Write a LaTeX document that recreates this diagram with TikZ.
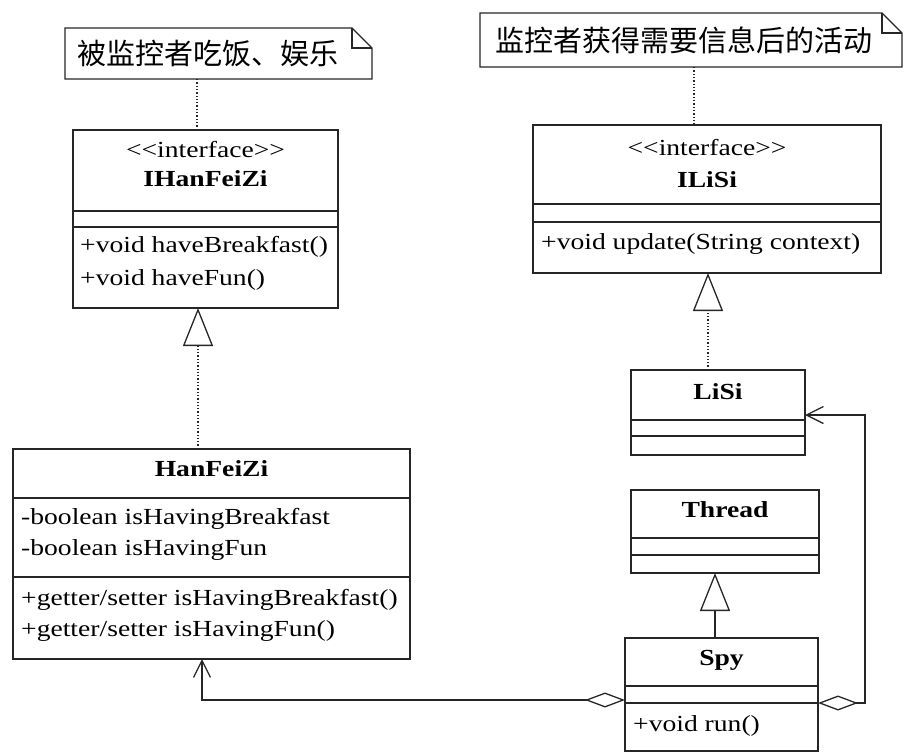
\documentclass[tikz,border=0pt]{standalone}
\usepackage{fontspec}
\setmainfont[FakeStretch=1.2]{Liberation Serif}
\newfontfamily\cjk{Noto Sans CJK SC}
\usetikzlibrary{arrows.meta}
\begin{document}
\begin{tikzpicture}[x=1pt,y=-1pt,
  line/.style={line width=1.3pt, draw=black!85},
  box/.style={line, draw, inner sep=0pt, outer sep=0pt},
  lbl/.style={font=\fontsize{23}{28}\selectfont, inner sep=0pt},
  ttl/.style={font=\fontsize{23}{28}\selectfont\bfseries, inner sep=0pt},
  cjklbl/.style={font=\fontsize{29}{32}\selectfont\cjk, inner sep=0pt},
  dotline/.style={line, dotted},
  realize/.style={line, dotted, -{Triangle[fill=white, length=38pt, width=30pt, line width=1.3pt]}},
  inherit/.style={line, -{Triangle[fill=white, length=38pt, width=30pt, line width=1.3pt]}},
  aggr/.style={line, {Diamond[fill=white, length=40pt, width=15pt, line width=1.3pt]}-{Straight Barb[length=17pt, width=17pt, line width=1.3pt]}}
]
\useasboundingbox (0,0) rectangle (904,753);

% ---- notes ----
\node[inner sep=0pt, outer sep=0pt, minimum width=307pt, minimum height=51pt] (n1) at (218.5,53.5) {};
\draw[line] (n1.north west) -- ([xshift=-20pt]n1.north east) -- ([yshift=-20pt]n1.north east) -- (n1.south east) -- (n1.south west) -- cycle;
\draw[line] ([xshift=-20pt]n1.north east) -- ([xshift=-20pt,yshift=-20pt]n1.north east) -- ([yshift=-20pt]n1.north east);
\node[cjklbl] (n1t) at (208,54) {被监控者吃饭、娱乐};

\node[inner sep=0pt, outer sep=0pt, minimum width=422pt, minimum height=54pt] (n2) at (691,40) {};
\draw[line] (n2.north west) -- ([xshift=-20pt]n2.north east) -- ([yshift=-20pt]n2.north east) -- (n2.south east) -- (n2.south west) -- cycle;
\draw[line] ([xshift=-20pt]n2.north east) -- ([xshift=-20pt,yshift=-20pt]n2.north east) -- ([yshift=-20pt]n2.north east);
\node[cjklbl] (n2t) at (684,40) {监控者获得需要信息后的活动};

% ---- IHanFeiZi ----
\node[box, draw, minimum width=265pt, minimum height=178pt] (IH) at (205.5,219) {};
\draw[line] (IH.west |- 0,211) -- (IH.east |- 0,211);
\draw[line] (IH.west |- 0,227) -- (IH.east |- 0,227);
\node[lbl, anchor=mid] (IHs) at (205.5,155) {<\kern0pt<interface>\kern0pt>};
\node[ttl, anchor=mid] (IHn) at (205.5,184) {IHanFeiZi};
\node[lbl, anchor=mid west] (IHm1) at (80,250) {+void haveBreakfast()};
\node[lbl, anchor=mid west] (IHm2) at (80,283) {+void haveFun()};

% ---- HanFeiZi ----
\node[box, draw, minimum width=397pt, minimum height=210pt] (HF) at (211.5,554) {};
\draw[line] (HF.west |- 0,498) -- (HF.east |- 0,498);
\draw[line] (HF.west |- 0,577) -- (HF.east |- 0,577);
\node[ttl, anchor=mid] (HFn) at (211.5,474) {HanFeiZi};
\node[lbl, anchor=mid west] (HFa1) at (21,522) {-boolean isHavingBreakfast};
\node[lbl, anchor=mid west] (HFa2) at (21,553) {-boolean isHavingFun};
\node[lbl, anchor=mid west] (HFm1) at (21,603) {+getter/setter isHavingBreakfast()};
\node[lbl, anchor=mid west] (HFm2) at (21,634) {+getter/setter isHavingFun()};

% ---- ILiSi ----
\node[box, draw, minimum width=348pt, minimum height=148pt] (IL) at (707,199) {};
\draw[line] (IL.west |- 0,204) -- (IL.east |- 0,204);
\draw[line] (IL.west |- 0,222) -- (IL.east |- 0,222);
\node[lbl, anchor=mid] (ILs) at (707,153) {<\kern0pt<interface>\kern0pt>};
\node[ttl, anchor=mid] (ILn) at (707,185) {ILiSi};
\node[lbl, anchor=mid west] (ILm1) at (541,247) {+void update(String context)};

% ---- LiSi ----
\node[box, draw, minimum width=174pt, minimum height=85pt] (LS) at (718,412.5) {};
\draw[line] (LS.west |- 0,420) -- (LS.east |- 0,420);
\draw[line] (LS.west |- 0,436) -- (LS.east |- 0,436);
\node[ttl, anchor=mid] (LSn) at (718,397) {LiSi};

% ---- Thread ----
\node[box, draw, minimum width=188pt, minimum height=83pt] (TH) at (725,531.5) {};
\draw[line] (TH.west |- 0,538) -- (TH.east |- 0,538);
\draw[line] (TH.west |- 0,555) -- (TH.east |- 0,555);
\node[ttl, anchor=mid] (THn) at (725,515) {Thread};

% ---- Spy ----
\node[box, draw, minimum width=193pt, minimum height=113pt] (SP) at (721.5,694.5) {};
\draw[line] (SP.west |- 0,686) -- (SP.east |- 0,686);
\draw[line] (SP.west |- 0,703) -- (SP.east |- 0,703);
\node[ttl, anchor=mid] (SPn) at (721.5,663) {Spy};
\node[lbl, anchor=mid west] (SPm1) at (633,729) {+void run()};

% ---- connectors ----
\coordinate (d1) at (197,0);
\draw[dotline] (d1 |- n1.south) -- (d1 |- IH.north);
\coordinate (d2) at (694,0);
\draw[dotline] (d2 |- n2.south) -- (d2 |- IL.north);

\coordinate (r1) at (198,0);
\draw[realize] (r1 |- HF.north) -- (r1 |- IH.south);
\coordinate (r2) at (708,0);
\draw[realize] (r2 |- LS.north) -- (r2 |- IL.south);
\coordinate (g1) at (715,0);
\draw[inherit] (g1 |- SP.north) -- (g1 |- TH.south);

\coordinate (c1) at (202,700);
\draw[aggr] (SP.west |- c1) -- (c1) -- (c1 |- HF.south);
\coordinate (c2) at (865,703);
\coordinate (c3) at (865,415);
\draw[aggr] (SP.east |- c2) -- (c2) -- (c3) -- (LS.east |- c3);
\end{tikzpicture}
\end{document}
